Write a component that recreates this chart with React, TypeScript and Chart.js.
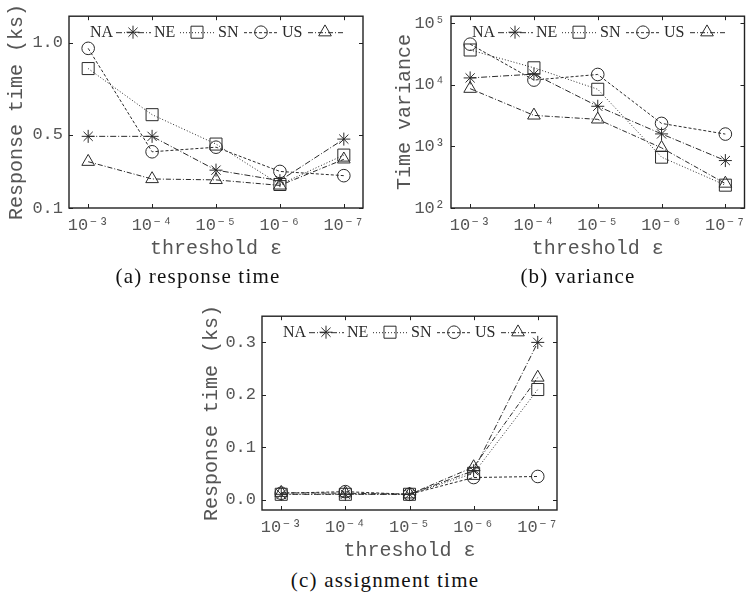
import React, { useEffect, useRef } from 'react';
import { Chart, registerables } from 'chart.js';
import { drawPoint } from 'chart.js/helpers';

Chart.register(...registerables);

// ---------- data ----------
const thresholds = ['10⁻³', '10⁻⁴', '10⁻⁵', '10⁻⁶', '10⁻⁷'];
const seriesNames = ['NA', 'NE', 'SN', 'US'];

// (a) response time (ks)
const respNA = [0.49, 0.49, 0.306, 0.249, 0.475];
const respNE = [0.859, 0.608, 0.448, 0.228, 0.388];
const respSN = [0.969, 0.406, 0.431, 0.299, 0.276];
const respUS = [0.352, 0.258, 0.253, 0.223, 0.365];
const respTicks = [0.1, 0.5, 1.0];
const respTickLabels = ['0.1', '0.5', '1.0'];

// (b) time variance
const varNA = [13000, 15000, 4500, 1600, 590];
const varNE = [37000, 19000, 8500, 670, 235];
const varSN = [46000, 12000, 14800, 2370, 1590];
const varUS = [8700, 3200, 2760, 950, 250];
const varTicks = [100, 1000, 10000, 100000];
const varTickLabels = ['10²', '10³', '10⁴', '10⁵'];

// (c) assignment time (ks)
const asgNA = [0.01, 0.01, 0.01, 0.055, 0.3];
const asgNE = [0.01, 0.01, 0.01, 0.05, 0.21];
const asgSN = [0.012, 0.015, 0.01, 0.042, 0.044];
const asgUS = [0.013, 0.012, 0.01, 0.062, 0.233];
const asgTicks = [0, 0.1, 0.2, 0.3];
const asgTickLabels = ['0.0', '0.1', '0.2', '0.3'];

// ---------- styles ----------
const pointStyles = ['star', 'rect', 'circle', 'triangle'];
const pointRadii = [6.5, 8.5, 6.3, 7.3];
const dashes = [[6, 2, 1, 2], [1, 2], [3, 2], [5, 2, 1, 2]];
const LINE = '#2a2a2a';
const TEXT = '#555';
const MONO = '"Liberation Mono", "DejaVu Sans Mono", monospace';
const SERIF = '"Liberation Serif", "DejaVu Serif", serif';

const framePlugin = {
  id: 'frame',
  afterDraw(chart: any) {
    const { ctx, chartArea } = chart;
    const { left, right, top, bottom } = chartArea;
    const xs = chart.scales.x;
    const ys = chart.scales.y;
    ctx.save();
    ctx.setLineDash([]);
    ctx.strokeStyle = '#222';
    ctx.lineWidth = 1;
    const tl = 4;
    ctx.beginPath();
    xs.ticks.forEach((t: any) => {
      const px = Math.round(xs.getPixelForValue(t.value)) + 0.5;
      ctx.moveTo(px, bottom); ctx.lineTo(px, bottom - tl);
      ctx.moveTo(px, top); ctx.lineTo(px, top + tl);
    });
    ys.ticks.forEach((t: any) => {
      const py = Math.round(ys.getPixelForValue(t.value)) + 0.5;
      ctx.moveTo(left, py); ctx.lineTo(left + tl, py);
      ctx.moveTo(right, py); ctx.lineTo(right - tl, py);
    });
    ctx.stroke();
    ctx.lineWidth = 1.4;
    ctx.strokeRect(left, top, right - left, bottom - top);
    ctx.restore();
  },
};

const keyPlugin = {
  id: 'key',
  afterDatasetsDraw(chart: any) {
    const { ctx, chartArea } = chart;
    const y = chartArea.top + 16;
    ctx.save();
    chart.data.datasets.forEach((ds: any, i: number) => {
      const x = chartArea.left + 21 + 64 * i;
      ctx.font = '16px ' + SERIF;
      ctx.fillStyle = '#2a2a2a';
      ctx.textAlign = 'left';
      ctx.textBaseline = 'middle';
      ctx.fillText(ds.label, x, y + 1);
      ctx.strokeStyle = LINE;
      ctx.lineWidth = 1;
      ctx.setLineDash(ds.borderDash);
      ctx.beginPath();
      ctx.moveTo(x + 26, y + 0.5);
      ctx.lineTo(x + 61, y + 0.5);
      ctx.stroke();
      ctx.setLineDash([]);
      ctx.fillStyle = 'rgba(0,0,0,0)';
      drawPoint(ctx, { pointStyle: ds.pointStyle, radius: ds.pointRadius, rotation: 0, borderWidth: 1 }, x + 43, y);
    });
    ctx.restore();
  },
};

type PanelProps = {
  series: number[][];
  yType: 'linear' | 'logarithmic';
  yMin: number;
  yMax: number;
  yTicks: number[];
  yTickLabels: string[];
  yTitle: string;
  left: number;
  top: number;
  width: number;
  height: number;
  padLeft: number;
  padTop: number;
  padRight: number;
  padBottom: number;
  yWidth: number;
  xHeight: number;
};

function Panel(p: PanelProps) {
  const ref = useRef<HTMLCanvasElement>(null);
  useEffect(() => {
    const chart = new Chart(ref.current as HTMLCanvasElement, {
      type: 'line',
      data: {
        datasets: p.series.map((vals, i) => ({
          label: seriesNames[i],
          data: vals.map((v, j) => ({ x: j, y: v })),
          borderColor: LINE,
          borderWidth: 1,
          borderDash: dashes[i],
          pointStyle: pointStyles[i] as any,
          pointRadius: pointRadii[i],
          pointBorderWidth: 1,
          pointBorderColor: LINE,
          pointBackgroundColor: 'rgba(0,0,0,0)',
          fill: false,
          tension: 0,
        })),
      },
      options: {
        responsive: false,
        animation: false,
        events: [],
        layout: { padding: { left: p.padLeft, top: p.padTop, right: p.padRight, bottom: p.padBottom } },
        plugins: { legend: { display: false }, tooltip: { enabled: false } },
        scales: {
          x: {
            type: 'linear',
            min: -0.3,
            max: 4.3,
            afterBuildTicks: (s: any) => {
              s.ticks = thresholds.map((_, i) => ({ value: i }));
            },
            afterFit: (s: any) => {
              s.height = p.xHeight;
            },
            ticks: {
              callback: (v: any) => thresholds[Math.round(v)],
              font: { family: MONO, size: 17 },
              color: TEXT,
              padding: 7,
              maxRotation: 0,
              autoSkip: false,
            },
            grid: { display: false, drawTicks: false },
            border: { display: false },
            title: { display: true, text: 'threshold ε', font: { family: MONO, size: 20 }, color: TEXT, padding: 0 },
          },
          y: {
            type: p.yType,
            min: p.yMin,
            max: p.yMax,
            afterBuildTicks: (s: any) => {
              s.ticks = p.yTicks.map((v) => ({ value: v }));
            },
            afterFit: (s: any) => {
              s.width = p.yWidth;
            },
            ticks: {
              callback: (_v: any, idx: number) => p.yTickLabels[idx],
              font: { family: MONO, size: 17 },
              color: TEXT,
              padding: 6,
              autoSkip: false,
            },
            grid: { display: false, drawTicks: false },
            border: { display: false },
            title: { display: true, text: p.yTitle, font: { family: MONO, size: 20 }, color: TEXT, padding: 0 },
          },
        },
      } as any,
      plugins: [framePlugin, keyPlugin],
    });
    return () => chart.destroy();
  }, []);
  return (
    <canvas
      ref={ref}
      width={p.width}
      height={p.height}
      style={{ position: 'absolute', left: p.left, top: p.top, width: p.width, height: p.height }}
    />
  );
}

function Caption({ text, cx, cy }: { text: string; cx: number; cy: number }) {
  return (
    <div
      style={{
        position: 'absolute',
        left: cx - 150,
        top: cy - 13,
        width: 300,
        height: 26,
        lineHeight: '26px',
        textAlign: 'center',
        fontFamily: SERIF,
        fontSize: 21,
        letterSpacing: '1.2px',
        color: '#111',
        whiteSpace: 'nowrap',
      }}
    >
      {text}
    </div>
  );
}

export default function App() {
  return (
    <div
      style={{
        position: 'absolute',
        left: 0,
        top: 0,
        width: 748,
        height: 594,
        overflow: 'hidden',
        background: '#fff',
      }}
    >
      <Panel
        series={[respNA, respNE, respSN, respUS]}
        yType="linear"
        yMin={0.1}
        yMax={1.144}
        yTicks={respTicks}
        yTickLabels={respTickLabels}
        yTitle="Response time (ks)"
        left={0}
        top={0}
        width={374}
        height={264}
        padLeft={5}
        padTop={11}
        padRight={11}
        padBottom={3}
        yWidth={64}
        xHeight={53}
      />
      <Panel
        series={[varNA, varNE, varSN, varUS]}
        yType="logarithmic"
        yMin={100}
        yMax={131000}
        yTicks={varTicks}
        yTickLabels={varTickLabels}
        yTitle="Time variance"
        left={374}
        top={0}
        width={380}
        height={264}
        padLeft={19}
        padTop={11}
        padRight={4}
        padBottom={3}
        yWidth={58}
        xHeight={53}
      />
      <Panel
        series={[asgNA, asgNE, asgSN, asgUS]}
        yType="linear"
        yMin={-0.02}
        yMax={0.35}
        yTicks={asgTicks}
        yTickLabels={asgTickLabels}
        yTitle="Response time (ks)"
        left={190}
        top={300}
        width={380}
        height={264}
        padLeft={10}
        padTop={12}
        padRight={13}
        padBottom={1}
        yWidth={62}
        xHeight={53}
      />
      <Caption text="(a) response time" cx={198} cy={276} />
      <Caption text="(b) variance" cx={578} cy={276} />
      <Caption text="(c) assignment time" cx={385} cy={580} />
    </div>
  );
}
